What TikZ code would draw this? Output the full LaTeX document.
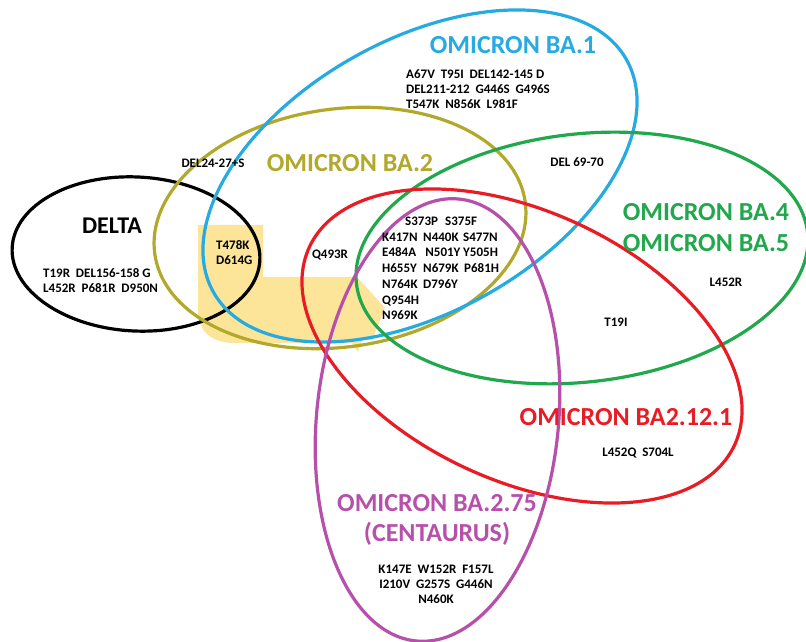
\documentclass[tikz,border=0pt]{standalone}
\usepackage{fontspec}
\setmainfont{Carlito}
\definecolor{cBlue}{RGB}{38,170,226}
\definecolor{cOlive}{RGB}{178,168,44}
\definecolor{cGreen}{RGB}{34,168,76}
\definecolor{cRed}{RGB}{232,28,36}
\definecolor{cPurple}{RGB}{182,80,170}
\definecolor{cYellow}{RGB}{252,228,152}
\newcommand{\gp}{\hspace{0.45em}}
\begin{document}
\begin{tikzpicture}[x=1pt,y=1pt,
  ring/.style={line width=3.2pt},
  title/.style={font=\fontsize{26}{31}\selectfont\bfseries, inner sep=0pt, align=center},
  mut/.style={font=\fontsize{13}{15}\selectfont\bfseries, inner sep=0pt, align=left},
  mutc/.style={font=\fontsize{13}{15}\selectfont\bfseries, inner sep=0pt, align=center}]
\useasboundingbox[fill=white] (0,0) rectangle (806,642);
% yellow highlight
\fill[cYellow] (198,417) -- (263,417) -- (263,365) -- (357,365) -- (385,334) -- (372,302)
  -- (362,302) -- (358,290) -- (352,299) -- (235,299)
  .. controls (212,299) and (198,310) .. (198,332) -- cycle;
% ellipses
\draw[ring, black]   (136,388) ellipse [x radius=124, y radius=77, rotate=-3];
\draw[ring, cOlive]  (340,414) ellipse [x radius=187, y radius=119, rotate=8];
\draw[ring, cBlue]   (420,466) ellipse [x radius=237, y radius=136, rotate=29.4];
\draw[ring, cGreen]  (582,384) ellipse [x radius=227, y radius=124, rotate=6.5];
\draw[ring, cRed]    (522,296) ellipse [x radius=234.5, y radius=134.4, rotate=-25];
\draw[ring, cPurple] (437.5,222) ellipse [x radius=121, y radius=222, rotate=-5.5];
% titles
\node[title, text=cBlue]   (tBA1)  at (513,597) {OMICRON BA.1};
\node[title, text=cOlive]  (tBA2)  at (350,479) {OMICRON BA.2};
\node[title, text=black, font=\fontsize{24}{28}\selectfont\bfseries] (tDelta) at (112,416) {DELTA};
\node[title, text=cGreen]  (tBA45) at (706,414.5) {OMICRON BA.4\\OMICRON BA.5};
\node[title, text=cRed]    (tBA12) at (626,225) {OMICRON BA2.12.1};
\node[title, text=cPurple, font=\fontsize{26}{30}\selectfont\bfseries] (tBA275) at (437,122) {OMICRON BA.2.75\\(CENTAURUS)};
% mutation lists
\node[mut, anchor=north west] (mBA1) at (406,572.2)
  {A67V\gp T95I\gp DEL142-145 D\\DEL211-212\gp G446S\gp G496S\\T547K\gp N856K\gp L981F};
\node[mut, anchor=north west] (mDelta) at (43,373.2)
  {T19R\gp DEL156-158 G\\L452R\gp P681R\gp D950N};
\node[mut, anchor=north west] (mShared) at (216,401.2) {T478K\\D614G};
\node[mut, anchor=north west, font=\fontsize{13}{15.7}\selectfont\bfseries] (mCore) at (382,425.2)
  {\hspace*{23pt}\makebox[40pt][l]{S373P}S375F\\
   \makebox[41pt][l]{K417N}\makebox[40pt][l]{N440K}S477N\\
   \makebox[41pt][l]{E484A}\makebox[40pt][l]{\,N501Y}Y505H\\
   \makebox[41pt][l]{H655Y}\makebox[41pt][l]{N679K}P681H\\
   \makebox[41pt][l]{N764K}D796Y\\
   Q954H\\
   N969K};
\node[mutc, anchor=north] (mBA275) at (436,77.2)
  {K147E\gp W152R\gp F157L\\I210V\gp G257S\gp G446N\\N460K};
\node[mut] (mDel24) at (213,479) {DEL24-27+S};
\node[mut] (mDel69) at (577,480) {DEL 69-70};
\node[mut] (mQ493) at (330,387) {Q493R};
\node[mut] (mL452R) at (726,360) {L452R};
\node[mut] (mT19I) at (616,320) {T19I};
\node[mut] (mBA12) at (638,189) {L452Q\gp S704L};
\end{tikzpicture}
\end{document}
